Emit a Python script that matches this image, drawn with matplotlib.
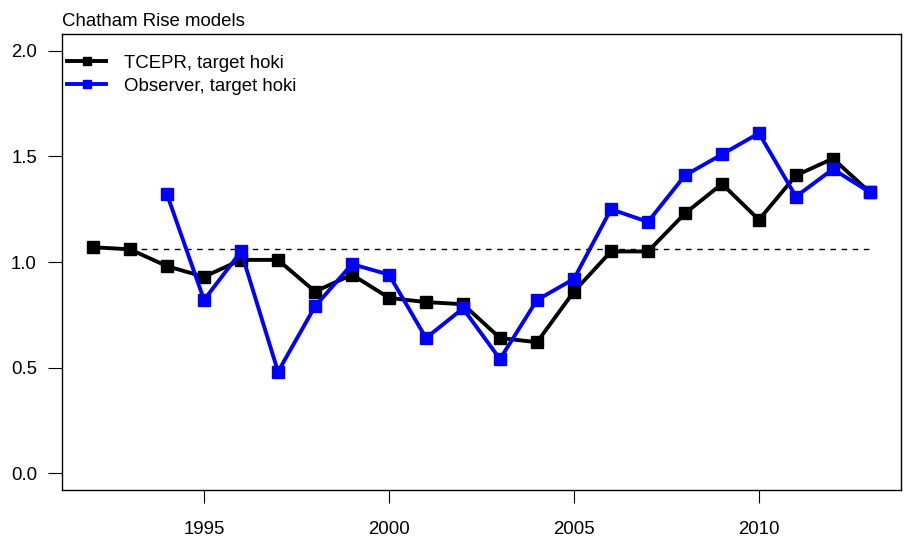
import matplotlib
matplotlib.use("Agg")
import matplotlib.pyplot as plt

plt.rcParams.update({"font.family": ["Liberation Sans", "DejaVu Sans"], "font.size": 13.4})

# TCEPR index (black) and observer index (blue)
tcepr_years = list(range(1992, 2014))
tcepr_vals = [1.07, 1.06, 0.98, 0.93, 1.01, 1.01, 0.86, 0.94, 0.83, 0.81, 0.80,
              0.64, 0.62, 0.86, 1.05, 1.05, 1.23, 1.37, 1.20, 1.41, 1.49, 1.33]
obs_years = list(range(1994, 2014))
obs_vals = [1.32, 0.82, 1.05, 0.48, 0.79, 0.99, 0.94, 0.64, 0.78, 0.54,
            0.82, 0.92, 1.25, 1.19, 1.41, 1.51, 1.61, 1.31, 1.44, 1.33]
ref_years = [1993, 2013]
ref_level = 1.06

W, H = 907, 547
fig = plt.figure(figsize=(W / 100, H / 100), dpi=100)
ax = fig.add_axes([62 / W, 1 - 490 / H, (901 - 62) / W, (490 - 34) / H])

ax.plot(ref_years, [ref_level, ref_level], color="black", lw=1.0, ls=(0, (4, 4)))
ax.plot(tcepr_years, tcepr_vals, color="black", lw=2.8, marker="s", ms=8.5,
        label="TCEPR, target hoki")
ax.plot(obs_years, obs_vals, color="#0000FF", lw=2.8, marker="s", ms=8.5,
        label="Observer, target hoki")

ax.set_xlim(1991.16, 2013.84)
ax.set_ylim(-0.08, 2.08)
ax.set_xticks([1995, 2000, 2005, 2010])
ax.set_yticks([0.0, 0.5, 1.0, 1.5, 2.0])
ax.set_yticklabels(["0.0", "0.5", "1.0", "1.5", "2.0"])
ax.tick_params(axis="x", length=9.5, width=0.8, pad=13)
ax.tick_params(axis="y", length=10, width=0.8, pad=8)
for s in ax.spines.values():
    s.set_linewidth(1.0)

leg = ax.legend(loc="upper left", bbox_to_anchor=(0.006, 0.954), frameon=False,
                handlelength=2.1, handletextpad=0.95, labelspacing=0.32,
                markerscale=0.75, borderaxespad=0, borderpad=0)

fig.text(62 / W, 1 - 26 / H, "Chatham Rise models", ha="left", va="baseline")

fig.savefig("out.png", dpi=100, facecolor="white")
